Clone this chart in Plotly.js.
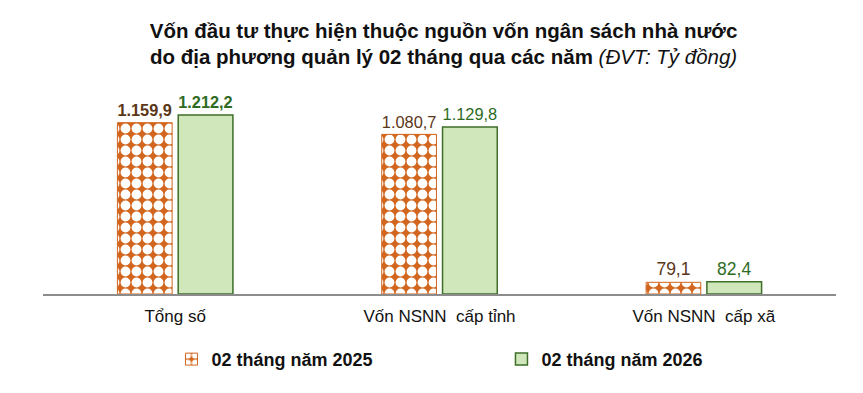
<!DOCTYPE html>
<html>
<head>
<meta charset="utf-8">
<script src="https://cdn.plot.ly/plotly-3.0.1.min.js"></script>
<style>
  html, body { margin: 0; padding: 0; background: #fff; }
  #chart { width: 863px; height: 393px; }
</style>
</head>
<body>
<div id="chart"></div>
<script>
// Vốn NSNN do địa phương quản lý, 02 tháng (Tỷ đồng)
const categories = ['Tổng số', 'Vốn NSNN\u00a0 cấp tỉnh', 'Vốn NSNN\u00a0 cấp xã'];
const seriesNames = ['02 tháng năm 2025', '02 tháng năm 2026'];
const values2025 = [1159.9, 1080.7, 79.1];
const values2026 = [1212.2, 1129.8, 82.4];

const FONT = 'Liberation Sans, Arial, sans-serif';
const ORANGE = '#D2661E';
const GREEN_FILL = '#D0E7BC';
const GREEN_LINE = '#3E6E27';

// first category's value labels are bold
const labelTemplates = ['<b>%{y:,.1f}</b>', '%{y:,.1f}', '%{y:,.1f}'];

const traces = [
  {
    type: 'bar',
    name: seriesNames[0],
    x: categories,
    y: values2025,
    texttemplate: labelTemplates,
    textposition: 'outside',
    cliponaxis: false,
    textfont: { family: FONT, size: 17.5, color: '#5B3617' },
    marker: {
      color: ORANGE,
      line: { color: ORANGE, width: 1 },
      pattern: { shape: '.', fgcolor: '#FFFFFF', bgcolor: ORANGE, size: 11, solidity: 0.62 }
    },
    hoverinfo: 'skip'
  },
  {
    type: 'bar',
    name: seriesNames[1],
    x: categories,
    y: values2026,
    texttemplate: labelTemplates,
    textposition: 'outside',
    cliponaxis: false,
    textfont: { family: FONT, size: 17.5, color: '#2E6B1F' },
    marker: {
      color: GREEN_FILL,
      line: { color: GREEN_LINE, width: 1.5 }
    },
    hoverinfo: 'skip'
  }
];

const layout = {
  width: 863,
  height: 393,
  paper_bgcolor: '#FFFFFF',
  plot_bgcolor: '#FFFFFF',
  separators: ',.',
  margin: { l: 43, r: 27, t: 90, b: 99, autoexpand: false },
  title: {
    text: '<b>Vốn đầu tư thực hiện thuộc nguồn vốn ngân sách nhà nước<br>do địa phương quản lý 02 tháng qua các năm</b> <i>(ĐVT: Tỷ đồng)</i>',
    font: { family: FONT, size: 20.5, color: '#111111' },
    x: 0.514,
    xanchor: 'center',
    y: 0.904,
    yanchor: 'top'
  },
  barmode: 'group',
  bargap: 0.54,
  bargroupgap: 0.1,
  xaxis: {
    showline: true,
    linecolor: '#8C8C8C',
    linewidth: 1.5,
    ticks: '',
    ticklabelstandoff: 6,
    showgrid: false,
    tickfont: { family: FONT, size: 17, color: '#111111' },
    fixedrange: true
  },
  yaxis: {
    range: [0, 1381],
    visible: false,
    showgrid: false,
    zeroline: false,
    fixedrange: true
  },
  showlegend: true,
  legend: {
    orientation: 'h',
    x: 0.162,
    xanchor: 'left',
    y: -0.23,
    yanchor: 'top',
    entrywidth: 285,
    entrywidthmode: 'pixels',
    itemwidth: 30,
    font: { family: FONT, size: 18, color: '#111111', weight: 'bold' },
    traceorder: 'normal'
  }
};

Plotly.newPlot('chart', traces, layout, { displayModeBar: false, staticPlot: true });
</script>
</body>
</html>
